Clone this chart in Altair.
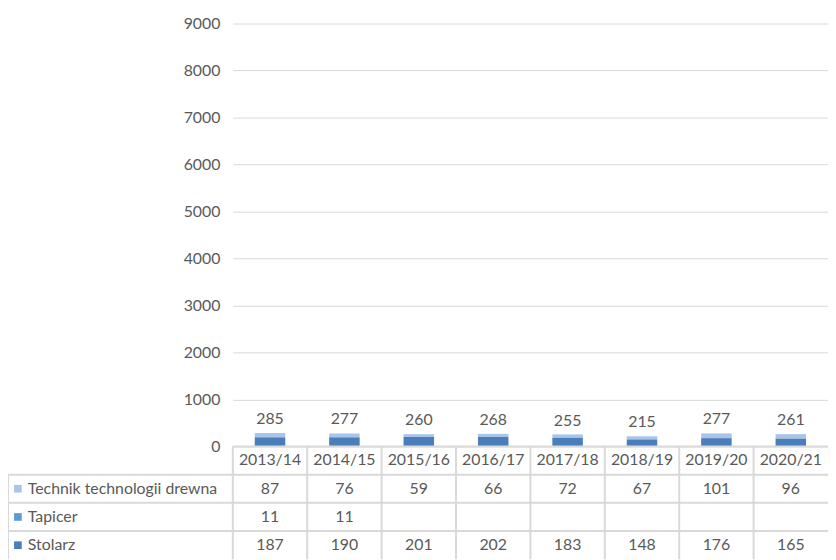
import altair as alt
import pandas as pd

# ---------------- data ----------------
years = ["2013/14", "2014/15", "2015/16", "2016/17", "2017/18", "2018/19", "2019/20", "2020/21"]
series = ["Technik technologii drewna", "Tapicer", "Stolarz"]
technik = [87, 76, 59, 66, 72, 67, 101, 96]
tapicer = [11, 11, None, None, None, None, None, None]
stolarz = [187, 190, 201, 202, 183, 148, 176, 165]
colors = ["#a9c4e8", "#5b9bd5", "#4a7ebb"]
y_ticks = list(range(0, 9001, 1000))

# ---------------- layout / style ----------------
W, H = 601, 539
ZERO_Y = 427          # pixel of value 0 inside plot
TABLE_BOTTOM = 541
LEFT_COL = -227       # left edge of the table's label column
FONT = "Lato"
FS = 16
TXT = "#595959"
GRID = "#d9d9d9"

values = {"Technik technologii drewna": technik, "Tapicer": tapicer, "Stolarz": stolarz}
stack_order = {"Stolarz": 0, "Tapicer": 1, "Technik technologii drewna": 2}

rows = []
for s in series:
    for yr, v in zip(years, values[s]):
        rows.append({"year": yr, "series": s, "value": v, "order": stack_order[s]})
long = pd.DataFrame(rows)
bars_df = long.dropna().copy()

totals_df = pd.DataFrame({
    "year": years,
    "total": [sum(v for v in (a, b, c) if v is not None) for a, b, c in zip(technik, tapicer, stolarz)],
})

HEADER = " "
row_domain = [HEADER] + series
table_rows = [{"year": yr, "row": HEADER, "text": yr} for yr in years]
for s in series:
    for yr, v in zip(years, values[s]):
        if v is not None:
            table_rows.append({"year": yr, "row": s, "text": str(int(v))})
table_df = pd.DataFrame(table_rows)
labels_df = pd.DataFrame({"row": series})
years_df = pd.DataFrame({"year": years})
header_df = pd.DataFrame({"row": [HEADER]})

xscale = alt.Scale(domain=years, paddingInner=0, paddingOuter=0)
yscale = alt.Scale(domain=[0, 9000], range=[ZERO_Y, 0])
rscale = alt.Scale(domain=row_domain, range=[ZERO_Y, TABLE_BOTTOM], paddingInner=0, paddingOuter=0)
cscale = alt.Scale(domain=series, range=colors)

bars = alt.Chart(bars_df).mark_bar(width=alt.RelativeBandSize(0.41)).encode(
    x=alt.X("year:N", scale=xscale, axis=None),
    y=alt.Y("value:Q", stack="zero", scale=yscale,
            axis=alt.Axis(values=y_ticks, format="d", grid=True, gridColor=GRID, gridWidth=1,
                          domain=False, ticks=False, labelPadding=13,
                          labelFontSize=FS, labelColor=TXT, labelFont=FONT, title=None)),
    color=alt.Color("series:N", scale=cscale, legend=None),
    order=alt.Order("order:Q"),
)

totals = alt.Chart(totals_df).mark_text(baseline="bottom", dy=-6, fontSize=FS, font=FONT, color=TXT).encode(
    x=alt.X("year:N", scale=xscale, axis=None),
    y=alt.Y("total:Q", scale=yscale, axis=None),
    text=alt.Text("total:Q"),
)

table_text = alt.Chart(table_df).mark_text(fontSize=FS, font=FONT, color=TXT).encode(
    x=alt.X("year:N", scale=xscale, axis=None),
    y=alt.Y("row:N", scale=rscale, axis=None, bandPosition=0.5),
    text="text:N",
)

row_labels = alt.Chart(labels_df).mark_text(fontSize=FS, font=FONT, color=TXT, align="left").encode(
    x=alt.value(LEFT_COL + 20),
    y=alt.Y("row:N", scale=rscale, axis=None, bandPosition=0.5),
    text="row:N",
)

row_keys = alt.Chart(labels_df).mark_square(size=60, opacity=1).encode(
    x=alt.value(LEFT_COL + 10),
    y=alt.Y("row:N", scale=rscale, axis=None, bandPosition=0.5),
    color=alt.Color("row:N", scale=cscale, legend=None),
)

hlines = alt.Chart(labels_df).mark_rule(color=GRID, strokeWidth=2).encode(
    x=alt.value(LEFT_COL), x2=alt.value(W),
    y=alt.Y("row:N", scale=rscale, axis=None, bandPosition=0),
)

hline_top = alt.Chart(header_df).mark_rule(color=GRID, strokeWidth=2).encode(
    x=alt.value(0), x2=alt.value(W),
    y=alt.Y("row:N", scale=rscale, axis=None, bandPosition=0),
)

vlines = alt.Chart(years_df).mark_rule(color=GRID, strokeWidth=2).encode(
    x=alt.X("year:N", scale=xscale, axis=None, bandPosition=0),
    y=alt.value(ZERO_Y), y2=alt.value(TABLE_BOTTOM),
)

left_border = alt.Chart(header_df).mark_rule(color=GRID, strokeWidth=2).encode(
    x=alt.value(LEFT_COL),
    y=alt.value(ZERO_Y + (TABLE_BOTTOM - ZERO_Y) / 4), y2=alt.value(TABLE_BOTTOM),
)

chart = alt.layer(
    bars, hlines, hline_top, vlines, left_border, totals, table_text, row_labels, row_keys
).resolve_scale(
    y="independent", color="shared"
).properties(
    width=W, height=H,
    autosize=alt.AutoSizeParams(type="none"),
    padding={"left": 227, "top": 13, "right": 0, "bottom": 0},
    background="white",
).configure_view(stroke=None)

chart.save("out.html", embed_options={"renderer": "svg", "actions": False})
